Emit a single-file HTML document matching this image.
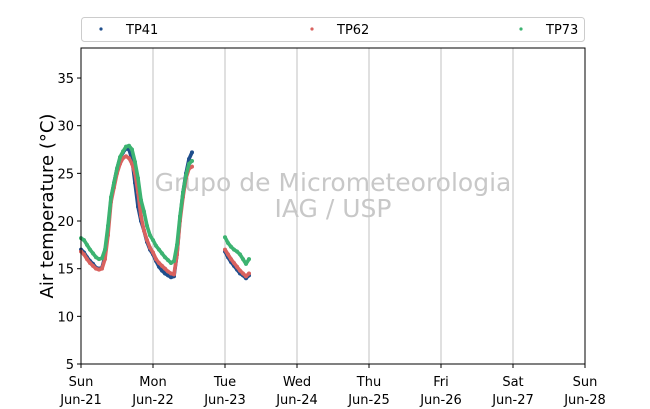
<!DOCTYPE html>
<html><head><meta charset="utf-8"><style>body{margin:0;background:#fff}svg{display:block;font-family:"DejaVu Sans","Liberation Sans",sans-serif}</style></head>
<body>
<svg id="chart" width="650" height="409" xmlns="http://www.w3.org/2000/svg">
<rect width="650" height="409" fill="#fff"/>
<g id="grid"></g>
<text x="333" y="191" font-size="25" fill="#c8c8c8" text-anchor="middle">Grupo de Micrometeorologia</text>
<text x="333" y="217" font-size="25" fill="#c8c8c8" text-anchor="middle">IAG / USP</text>
<g id="series"></g>
<rect x="81" y="48" width="504" height="316" fill="none" stroke="#000" stroke-width="1"/>
<g id="axes"></g>
<text transform="translate(53,206) rotate(-90)" font-size="18" text-anchor="middle">Air temperature (°C)</text>
<g>
<rect x="81.5" y="17.5" width="503" height="24" rx="3" fill="#fff" stroke="#ccc"/>
<g id="legend"></g>
</g>
</svg>
<script>
const dayLabels=["Sun","Mon","Tue","Wed","Thu","Fri","Sat","Sun"];
const dateLabels=["Jun-21","Jun-22","Jun-23","Jun-24","Jun-25","Jun-26","Jun-27","Jun-28"];
const yTicks=[5,10,15,20,25,30,35];
const seriesNames=["TP41","TP62","TP73"];
const seriesColors=["#1f4e8c","#d9625f","#3cb371"];
const hours1=[0,1,2,3,4,5,6,7,8,9,10,11,12,13,14,15,16,17,18,19,20,21,22,23,24,25,26,27,28,29,30,31,32,33,34,35,36,37];
const hours2=[48,49,50,51,52,53,54,55,56];
const tp41a=[17.0,16.7,16.2,15.8,15.5,15.1,15.0,15.1,16.3,19.0,22.3,24.0,25.5,26.6,27.2,27.6,27.5,26.5,24.0,21.5,20.0,19.0,17.8,17.0,16.5,15.8,15.2,14.8,14.5,14.3,14.1,14.2,16.5,20.3,23.0,25.0,26.5,27.2];
const tp62a=[16.8,16.5,16.0,15.6,15.3,15.0,14.9,15.0,16.0,18.5,22.0,23.5,25.0,26.0,26.6,26.8,26.6,26.0,25.0,23.0,20.5,19.0,18.0,17.2,16.7,16.0,15.6,15.3,15.0,14.7,14.5,14.4,16.5,20.0,22.5,24.5,25.5,25.7];
const tp73a=[18.2,18.0,17.5,17.0,16.6,16.2,16.0,16.1,17.0,19.5,22.5,24.0,25.5,26.7,27.3,27.8,27.9,27.5,26.2,24.5,22.2,21.0,19.5,18.5,18.0,17.4,17.0,16.6,16.2,15.9,15.6,15.8,17.5,20.5,23.0,24.8,26.0,26.3];
const tp41b=[16.8,16.2,15.7,15.3,14.9,14.5,14.3,14.0,14.3];
const tp62b=[17.0,16.5,16.0,15.6,15.2,14.8,14.5,14.2,14.5];
const tp73b=[18.3,17.7,17.3,17.0,16.8,16.5,16.0,15.5,16.0];

const NS="http://www.w3.org/2000/svg";
const X0=81,X1=585,Y0=364,Y1=48,YMIN=5,YMAX=38.15;
const xh=h=>X0+(X1-X0)*h/(7*24);
const yv=v=>Y0-(Y0-Y1)*(v-YMIN)/(YMAX-YMIN);
function mk(t,a,p){const e=document.createElementNS(NS,t);for(const k in a)e.setAttribute(k,a[k]);if(p)p.appendChild(e);return e;}
const grid=document.getElementById('grid'),axes=document.getElementById('axes'),ser=document.getElementById('series'),leg=document.getElementById('legend');
dayLabels.forEach((d,i)=>{const x=xh(i*24);
 if(i>0&&i<7){const g=mk('line',{x1:x,x2:x,y1:Y1,y2:Y0,stroke:'#c0c0c0','stroke-width':1},grid);
 
 }
 const t=mk('line',{x1:x,x2:x,y1:Y0,y2:Y0+4,stroke:'#000'},axes);
 
 
 const l=mk('text',{x:x,y:386,'font-size':13,'text-anchor':'middle'},axes);l.textContent=d;
 
 
 const l2=mk('text',{x:x,y:404,'font-size':13,'text-anchor':'middle'},axes);l2.textContent=dateLabels[i];
 
 
});
yTicks.forEach(v=>{const y=yv(v);
 const t=mk('line',{x1:X0-4,x2:X0,y1:y,y2:y,stroke:'#000'},axes);
 
 
 const l=mk('text',{x:X0-7,y:y+5,'font-size':13,'text-anchor':'end'},axes);l.textContent=v;
 
 
});
const segs=[[tp41a,tp41b],[tp62a,tp62b],[tp73a,tp73b]];
segs.forEach((s,i)=>{const g=mk('g',{},ser);
 
 
 [[hours1,s[0]],[hours2,s[1]]].forEach(([hs,vs])=>{
  const pts=hs.map((h,k)=>xh(h)+','+yv(vs[k])).join(' ');
  const pl=mk('polyline',{points:pts,fill:'none',stroke:seriesColors[i],'stroke-width':3.6,'stroke-linejoin':'round','stroke-linecap':'round'},g);
  
  
  hs.forEach((h,k)=>{const c=mk('circle',{cx:xh(h),cy:yv(vs[k]),r:2,fill:seriesColors[i]},g);
   
   });
 });
});
const lx=[101,312,521];
seriesNames.forEach((n,i)=>{
 const c=mk('circle',{cx:lx[i],cy:29,r:1.6,fill:seriesColors[i]},leg);
 
 
 const t=mk('text',{x:lx[i]+25,y:34,'font-size':13},leg);t.textContent=n;
 
 
});
</script>
</body></html>
